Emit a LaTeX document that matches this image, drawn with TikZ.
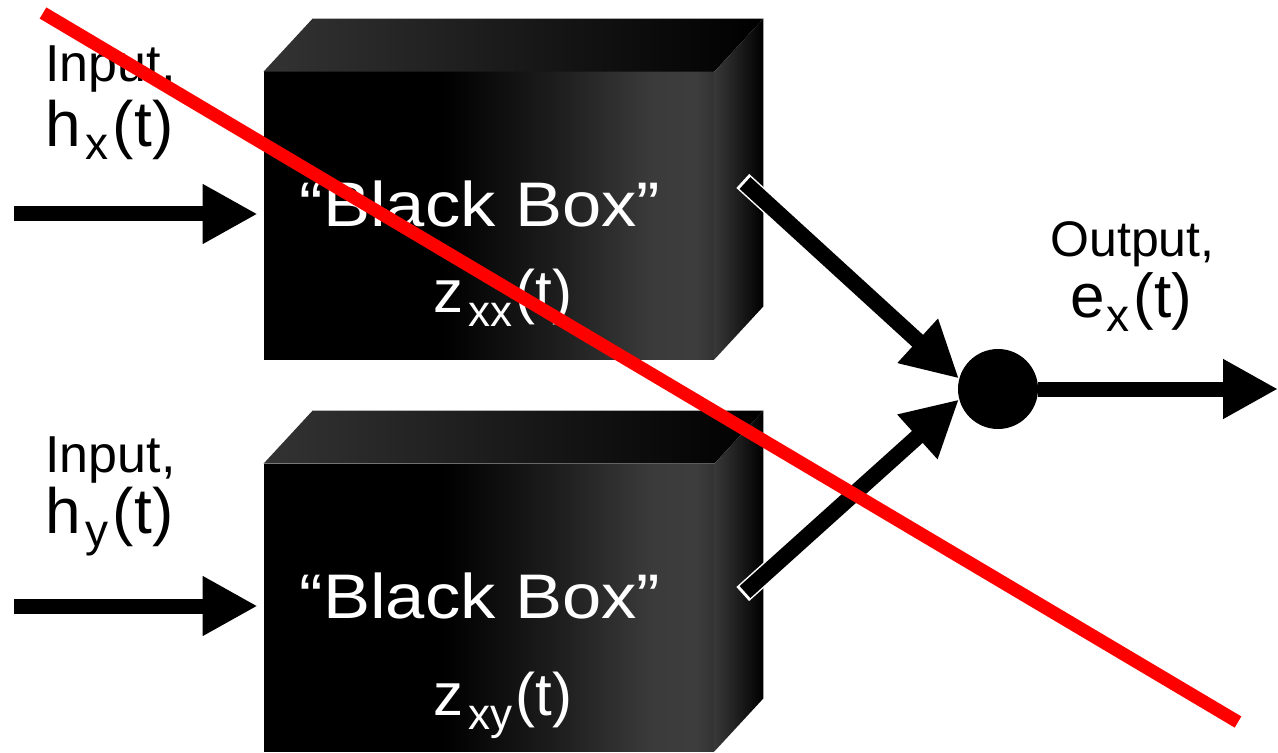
\documentclass[tikz,border=0pt]{standalone}
\usepackage{fontspec}
\setmainfont{Liberation Sans}
\usetikzlibrary{arrows.meta,calc}
\pgfdeclarehorizontalshading{bbfront}{100bp}{color(0bp)=(black); color(25bp)=(black); color(45bp)=(black); color(58bp)=(black!88); color(68bp)=(black!77); color(73bp)=(black!76); color(75bp)=(black!80); color(100bp)=(black!80)}
\newcommand\mysub[3]{\raisebox{-#2}{\fontsize{#1}{#1}\selectfont #3}}
\tikzset{
  frontface/.style={shade, shading=bbfront, draw=none, inner sep=0pt, minimum width=225pt, minimum height=143.5pt},
  topface/.style={left color=black!80, middle color=black!96, right color=black},
  sideface/.style={left color=black!78, right color=black},
  lbl/.style={inner sep=0pt, text=black},
  wt/.style={inner sep=0pt, text=white},
  inarr/.style={line width=7.5pt, -{Triangle[length=27.5pt, width=28pt]}},
  diagarr/.style={line width=8pt, -{Triangle[length=28pt, width=28pt]}},
  diagrim/.style={line width=9.5pt, white},
  sumnode/.style={circle, fill=black, inner sep=0pt, minimum size=40pt},
  strike/.style={draw=red, line width=6.5pt}
}
\begin{document}
\begin{tikzpicture}[x=0.5pt, y=-0.5pt]
\useasboundingbox (0,0) rectangle (1278,753);
\fill[white] (0,0) rectangle (1278,753);

% boxes
\node[frontface] (b1) at (489,215.5) {};
\shade[topface] (b1.north west) -- ($(b1.north west)+(49,-53)$) -- ($(b1.north east)+(49,-53)$) -- (b1.north east) -- cycle;
\shade[sideface] (b1.north east) -- ($(b1.north east)+(49,-53)$) -- ($(b1.south east)+(49,-53)$) -- (b1.south east) -- cycle;

\node[frontface] (b2) at (489,607.5) {};
\shade[topface] (b2.north west) -- ($(b2.north west)+(49,-53)$) -- ($(b2.north east)+(49,-53)$) -- (b2.north east) -- cycle;
\shade[sideface] (b2.north east) -- ($(b2.north east)+(49,-53)$) -- ($(b2.south east)+(49,-53)$) -- (b2.south east) -- cycle;

% box texts
\node[wt, anchor=base, font=\fontsize{31.5}{34}\selectfont] (bb1) at (480,227) {\scalebox{1.12}[1]{“Black Box”}};
\node[wt, anchor=base west, font=\fontsize{30}{34}\selectfont] (z1) at (433,313) {z\hspace{2.5pt}\mysub{22}{7pt}{xx}\hspace{1.5pt}(t)};
\node[wt, anchor=base, font=\fontsize{31.5}{34}\selectfont] (bb2) at (480,618) {\scalebox{1.12}[1]{“Black Box”}};
\node[wt, anchor=base west, font=\fontsize{30}{34}\selectfont] (z2) at (433,715) {z\hspace{2.5pt}\mysub{22}{7pt}{xy}\hspace{1.5pt}(t)};

% input labels
\node[lbl, anchor=base west, font=\fontsize{26}{30}\selectfont] (inx) at (45,82) {Input,};
\node[lbl, anchor=base west, font=\fontsize{32}{36}\selectfont] (hx) at (45,147) {h\hspace{2.5pt}\mysub{23}{6.5pt}{x}\hspace{2pt}(t)};
\node[lbl, anchor=base west, font=\fontsize{26}{30}\selectfont] (iny) at (45,472) {Input,};
\node[lbl, anchor=base west, font=\fontsize{32}{36}\selectfont] (hy) at (45,533) {h\hspace{2.5pt}\mysub{23}{6.5pt}{y}\hspace{2pt}(t)};

% output labels
\node[lbl, anchor=base west, font=\fontsize{25}{30}\selectfont] (outl) at (1050,257) {Output,};
\node[lbl, anchor=base west, font=\fontsize{31}{34}\selectfont] (ex) at (1070,318) {e\hspace{1pt}\mysub{23}{7pt}{x}\hspace{2pt}(t)};

% summing node
\node[sumnode] (sum) at (998,389) {};

% input arrows
\coordinate (in1) at (14,214);
\coordinate (in2) at (14,606);
\draw[inarr, shorten >=3pt] (in1) -- (in1 -| b1.west);
\draw[inarr, shorten >=3pt] (in2) -- (in2 -| b2.west);

% diagonal arrows
\coordinate (s1) at (745,183);
\coordinate (s2) at (745,592);
\draw[diagrim, shorten <=-1.5pt] (s1) -- ($(s1)!0.15!(sum.165)$);
\draw[diagarr] (s1) -- (sum.165);
\draw[diagrim, shorten <=-1.5pt] (s2) -- ($(s2)!0.15!(sum.195)$);
\draw[diagarr] (s2) -- (sum.195);

% output arrow
\coordinate (out) at (1278,389);
\draw[inarr] (sum.east) -- (out);

% red strike line
\coordinate (r1) at (43,13);
\coordinate (r2) at (1238,722);
\draw[strike] (r1) -- (r2);
\end{tikzpicture}
\end{document}
